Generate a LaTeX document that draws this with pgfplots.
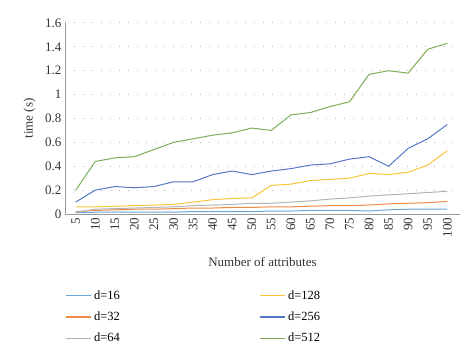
\documentclass[border=0pt]{standalone}
\usepackage{pgfplots}
\pgfplotsset{compat=1.18}
\usepackage{fontspec}
\setmainfont{Liberation Serif}
\definecolor{c16}{HTML}{6FA5D8}
\definecolor{c32}{HTML}{ED8A45}
\definecolor{c64}{HTML}{B4B4B4}
\definecolor{c128}{HTML}{F8C43A}
\definecolor{c256}{HTML}{5577C4}
\definecolor{c512}{HTML}{7BAE55}
\begin{document}
\begin{tikzpicture}[x=1pt,y=1pt]
\useasboundingbox (0,0) rectangle (474,359);
\begin{axis}[
  at={(65pt,145pt)}, anchor=south west,
  scale only axis, width=395pt, height=191pt,
  xmin=-0.55, xmax=19.65, ymin=0, ymax=1.6,
  xtick={0,...,19},
  xticklabels={5,10,15,20,25,30,35,40,45,50,55,60,65,70,75,80,85,90,95,100},
  xticklabel style={rotate=90, anchor=east},
  ytick={0,0.2,...,1.6},
  yticklabels={0,0.2,0.4,0.6,0.8,1,1.2,1.4,1.6},
  /pgf/number format/assume math mode=true,
  tick style={draw=none},
  axis x line*=bottom, axis y line*=left,
  axis line style={draw=gray!80, line width=0.8pt, -},
  ymajorgrids, grid style={gray!60, line width=1pt, dash pattern=on 0.8pt off 8.2pt},
  font=\fontsize{12.5}{14}\selectfont,
  ticklabel style={font=\fontsize{13}{14}\selectfont, text=black!80},
  xlabel={Number of attributes}, ylabel={time (s)},
  label style={font=\fontsize{13}{15}\selectfont, text=black!80},
  xlabel style={yshift=-13pt},
  ylabel style={yshift=3pt},
  legend columns=2,
  legend style={at={(-0.006,-0.38)}, anchor=north west, draw=none,
    font=\fontsize{12.5}{14}\selectfont,
    row sep=7pt, cells={anchor=west},
    /tikz/every even column/.append style={column sep=138pt}},
  legend image code/.code={\draw[#1, line width=1.2pt] (0pt,0pt) -- (25pt,0pt);},
  every axis plot/.append style={line width=1pt},
]
\addplot[c16] coordinates {(0,0.01)(1,0.015)(2,0.015)(3,0.015)(4,0.015)(5,0.015)(6,0.02)(7,0.02)(8,0.02)(9,0.02)(10,0.025)(11,0.025)(12,0.03)(13,0.03)(14,0.03)(15,0.025)(16,0.035)(17,0.04)(18,0.04)(19,0.04)};
\addlegendentry{d=16}
\addplot[c128] coordinates {(0,0.06)(1,0.06)(2,0.065)(3,0.07)(4,0.075)(5,0.08)(6,0.10)(7,0.12)(8,0.13)(9,0.135)(10,0.24)(11,0.25)(12,0.28)(13,0.29)(14,0.30)(15,0.34)(16,0.33)(17,0.35)(18,0.41)(19,0.53)};
\addlegendentry{d=128}
\addplot[c32] coordinates {(0,0.02)(1,0.03)(2,0.035)(3,0.04)(4,0.04)(5,0.045)(6,0.05)(7,0.05)(8,0.055)(9,0.055)(10,0.06)(11,0.06)(12,0.065)(13,0.07)(14,0.07)(15,0.075)(16,0.085)(17,0.09)(18,0.095)(19,0.105)};
\addlegendentry{d=32}
\addplot[c256] coordinates {(0,0.10)(1,0.20)(2,0.23)(3,0.22)(4,0.23)(5,0.27)(6,0.27)(7,0.33)(8,0.36)(9,0.33)(10,0.36)(11,0.38)(12,0.41)(13,0.42)(14,0.46)(15,0.48)(16,0.40)(17,0.55)(18,0.63)(19,0.75)};
\addlegendentry{d=256}
\addplot[c64] coordinates {(0,0.015)(1,0.04)(2,0.045)(3,0.05)(4,0.055)(5,0.06)(6,0.07)(7,0.075)(8,0.08)(9,0.09)(10,0.09)(11,0.10)(12,0.11)(13,0.125)(14,0.135)(15,0.15)(16,0.16)(17,0.17)(18,0.18)(19,0.19)};
\addlegendentry{d=64}
\addplot[c512] coordinates {(0,0.20)(1,0.44)(2,0.47)(3,0.48)(4,0.54)(5,0.60)(6,0.63)(7,0.66)(8,0.68)(9,0.72)(10,0.70)(11,0.83)(12,0.85)(13,0.90)(14,0.94)(15,1.17)(16,1.20)(17,1.18)(18,1.38)(19,1.43)};
\addlegendentry{d=512}
\end{axis}
\end{tikzpicture}
\end{document}
